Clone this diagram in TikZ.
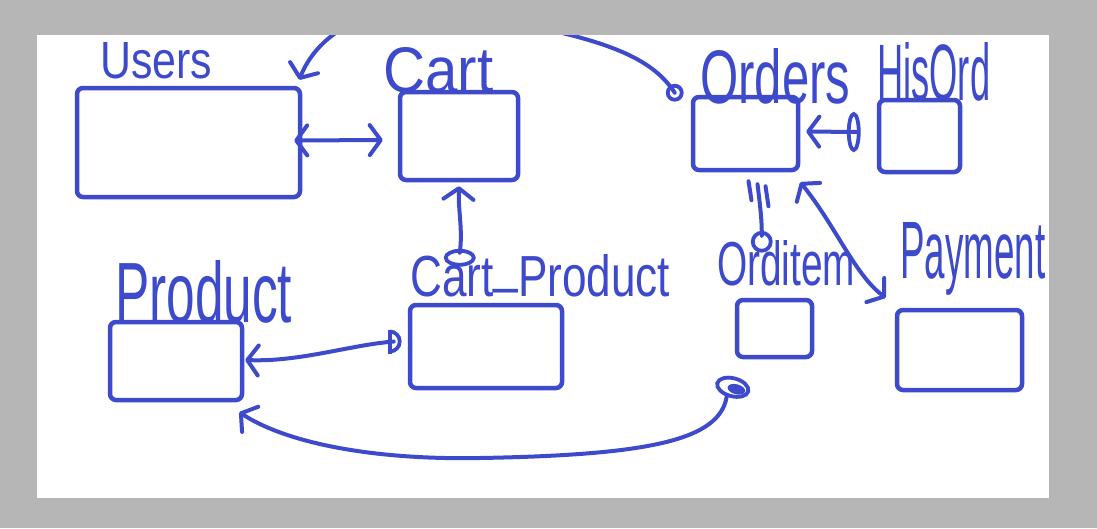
\documentclass[tikz,border=0pt]{standalone}
\usepackage{fontspec}
\setmainfont{Liberation Sans}
\usepackage{graphicx}
\usetikzlibrary{arrows.meta,calc}
\definecolor{ink}{HTML}{3D4ACB}
\definecolor{bgray}{HTML}{B5B6B5}
\newcommand\lbl[3]{\resizebox{#1}{#2}{#3}}
\tikzset{
  box/.style={draw=ink, line width=4.5pt, rounded corners=6pt, inner sep=0pt},
  lab/.style={anchor=base west, inner sep=0pt, text=ink},
  conn/.style={draw=ink, line width=4pt, line cap=round, line join=round},
  barb/.tip={Straight Barb[length=11pt,width=30pt,round]},
  endmark/.style={draw=ink, line width=3.8pt}
}
\begin{document}
\begin{tikzpicture}[x=1pt,y=-1pt]
\useasboundingbox (0,0) rectangle (1097,528);
\fill[bgray] (0,0) rectangle (1097,528);
\fill[white] (37,35) rectangle (1049,498);

% boxes
\node[box, minimum width=223pt, minimum height=109pt] (users) at (188.5,142.5) {};
\node[box, minimum width=118pt, minimum height=88pt] (cart) at (459,136) {};
\node[box, minimum width=105pt, minimum height=73pt] (orders) at (745.5,133.5) {};
\node[box, minimum width=81pt, minimum height=72pt] (hisord) at (919.5,136) {};
\node[box, minimum width=132pt, minimum height=78pt] (product) at (176,361) {};
\node[box, minimum width=152pt, minimum height=83pt] (cartprod) at (486,346.5) {};
\node[box, minimum width=75pt, minimum height=57pt] (orditem) at (774.5,328.5) {};
\node[box, minimum width=125pt, minimum height=80pt] (payment) at (959.5,350) {};

% labels
\node[lab] (lusers) at (100,78) {\lbl{112pt}{36pt}{Users}};
\node[lab] (lcart) at (383,92) {\lbl{110pt}{45pt}{Cart}};
\node[lab] (lorders) at (700,103) {\lbl{150pt}{55pt}{Orders}};
\node[lab] (lhisord) at (877,100) {\lbl{113pt}{58pt}{HisOrd}};
\node[lab] (lproduct) at (115,322) {\lbl{177pt}{62pt}{Product}};
\node[lab] (lcartprod) at (410,296) {\lbl{260pt}{42pt}{Cart\raisebox{0.25em}{\_}Product}};
\node[lab] (lorditem) at (717,285) {\lbl{138pt}{45pt}{Orditem}};
\node[lab] (lpayment) at (900,278) {\lbl{145pt}{56pt}{Payment}};

% Users <-> Cart
\draw[conn, barb-barb] ($(users.east)+(-8,-2)$) -- ($(cart.west)+(-15,4)$);

% Orders -> Users (over the top)
\coordinate (ou1) at ($(orders.north west)+(-16,-2)$);
\coordinate (ou2) at ($(users.north east)+(-3,-6)$);
\begin{scope}
\clip (37,35) rectangle (1049,498);
\draw[conn, -barb] (ou1) .. controls (650,55) and (600,35) .. (450,12)
   .. controls (360,0) and (315,40) .. (ou2);
\end{scope}
\draw[endmark] (ou1) circle (7pt);

% Cart <-> Cart_Product
\coordinate (cc1) at ($(cart.south)+(0,4)$);
\coordinate (cc2) at ($(cartprod.north west)+(52,-50)$);
\draw[conn, barb-] (cc1) .. controls (458,210) and (463,230) .. (cc2);
\draw[endmark] ($(cc2)+(0,5)$) ellipse (14pt and 7pt);

% Cart_Product -> Product
\coordinate (pp1) at ($(cartprod.west)+(-14,-5)$);
\coordinate (pp2) at ($(product.east)+(1,-1)$);
\draw[conn, -barb] (pp1) .. controls (350,345) and (300,362) .. (pp2);
\draw[endmark] ($(pp1)+(-4,-12)$) -- ($(pp1)+(-4,12)$);
\draw[endmark] ($(pp1)+(-4,-10)$) arc (90:-90:10pt);

% HisOrd -> Orders
\coordinate (ho1) at ($(orders.east)+(6,-2)$);
\coordinate (ho2) at ($(hisord.west)+(-20,-4)$);
\draw[conn, barb-] (ho1) -- (ho2);
\draw[endmark] ($(ho2)+(-3,0)$) ellipse (5pt and 18pt);

% Orders -> OrdItem
\coordinate (oi1) at ($(orders.south)+(12,12)$);
\coordinate (oi2) at ($(orditem.north west)+(27,-62)$);
\draw[conn] (oi1) .. controls (760,205) and (762,220) .. (oi2);
\draw[conn] ($(oi1)+(-9,-3)$) -- ($(oi1)+(-6,16)$);
\draw[conn] ($(oi1)+(8,2)$) -- ($(oi1)+(11,22)$);
\draw[endmark] ($(oi2)+(0,6)$) circle (9pt);

% Orders <-> Payment
\coordinate (op1) at ($(orders.south east)+(0,10)$);
\coordinate (op2) at ($(payment.north west)+(-9,-10)$);
\draw[conn, barb-barb] (op1) .. controls (835,225) and (855,275) .. (op2);

% OrdItem -> Product
\coordinate (ip0) at ($(orditem.south west)+(-2,28)$);
\coordinate (ip1) at ($(ip0)+(-6,9)$);
\coordinate (ip2) at ($(product.south east)+(-5,10)$);
\draw[conn, -barb] (ip1) .. controls (720,440) and (650,455) .. (480,458)
   .. controls (380,460) and (290,445) .. (ip2);
\draw[endmark, rotate around={-15:(ip0)}] (ip0) ellipse (16pt and 9pt);
\fill[ink, rotate around={-15:(ip0)}] ($(ip0)+(4,1)$) ellipse (9pt and 5pt);
\end{tikzpicture}
\end{document}
